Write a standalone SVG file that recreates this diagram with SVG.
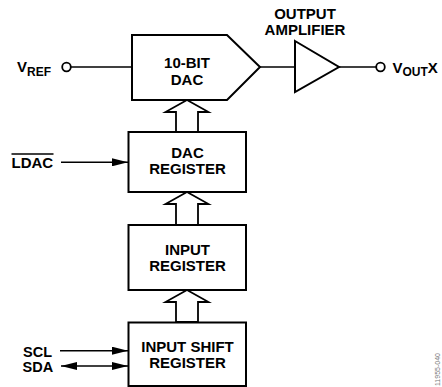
<svg xmlns="http://www.w3.org/2000/svg" width="442" height="387" viewBox="0 0 442 387">
<style>
text{font-family:"Liberation Sans",Arial,sans-serif;font-weight:bold;font-size:15px;fill:#000}
.c{text-anchor:middle}
.box{fill:#fff;stroke:#000;stroke-width:2}
.w{fill:none;stroke:#000;stroke-width:1.6}
.bus{fill:#fff;stroke:#000;stroke-width:1.8;stroke-linejoin:miter}
.pin{fill:#fff;stroke:#000;stroke-width:1.8}
.sub{font-size:12px}
.sm{font-size:14.5px}
.id{font-weight:normal;font-size:7px;fill:#777}
</style>
<defs>
<marker id="ah" markerUnits="userSpaceOnUse" markerWidth="16" markerHeight="8" refX="16" refY="4" orient="auto-start-reverse">
<path d="M0,0 L16,4 L0,8 Z" fill="#000"/>
</marker>
</defs>
<g id="connectors">
<line class="w" x1="71" y1="67" x2="132" y2="67"/>
<line class="w" x1="260" y1="67" x2="295" y2="67"/>
<line class="w" x1="339" y1="67" x2="376" y2="67"/>
<line class="w" x1="61" y1="162.3" x2="128" y2="162.3" marker-end="url(#ah)"/>
<line class="w" x1="60" y1="350.7" x2="128" y2="350.7" marker-end="url(#ah)"/>
<line class="w" x1="61" y1="366" x2="128" y2="366" marker-start="url(#ah)" marker-end="url(#ah)"/>
<path class="bus" d="M187,100 L208.5,112 L198,112 L198,132 L176,132 L176,112 L165.5,112 Z"/>
<path class="bus" d="M187,192 L208.5,204 L198,204 L198,225 L176,225 L176,204 L165.5,204 Z"/>
<path class="bus" d="M187,290 L208.5,302 L198,302 L198,322 L176,322 L176,302 L165.5,302 Z"/>
</g>
<g id="vref">
<circle class="pin" cx="66.5" cy="67" r="4.3"/>
<text x="17" y="72">V<tspan class="sub" dy="3.5">REF</tspan></text>
</g>
<g id="dac">
<path class="box" d="M132,35 L227,35 L260,67 L227,100 L132,100 Z"/>
<text class="c" x="187" y="68">10-BIT</text>
<text class="c" x="187" y="84.5">DAC</text>
</g>
<g id="amp">
<path class="box" d="M295,41 L339,67 L295,92 Z"/>
<text class="c" x="305" y="19">OUTPUT</text>
<text class="c" x="305" y="34.5">AMPLIFIER</text>
</g>
<g id="vout">
<circle class="pin" cx="380.5" cy="67" r="4.3"/>
<text x="392.5" y="72.7">V<tspan class="sub" dy="3">OUT</tspan><tspan dy="-3">X</tspan></text>
</g>
<g id="ldac">
<text x="11.5" y="168.3">LDAC</text>
<line x1="11.5" y1="154" x2="53.5" y2="154" stroke="#000" stroke-width="1.3"/>
</g>
<g id="dac-register">
<rect class="box" x="128.5" y="132" width="117.5" height="60"/>
<text class="c" x="187.5" y="157.5">DAC</text>
<text class="c" x="187.5" y="174">REGISTER</text>
</g>
<g id="input-register">
<rect class="box" x="128.5" y="225" width="117.5" height="65"/>
<text class="c" x="187.5" y="255">INPUT</text>
<text class="c" x="187.5" y="270.7">REGISTER</text>
</g>
<g id="input-shift-register">
<rect class="box" x="128.5" y="322.5" width="117.5" height="63.5"/>
<text class="c" x="187.5" y="352.3">INPUT SHIFT</text>
<text class="c" x="187.5" y="368.3">REGISTER</text>
</g>
<g id="scl"><text class="sm" x="23" y="356.8">SCL</text></g>
<g id="sda"><text class="sm" x="22.5" y="372.3">SDA</text></g>
<text class="id" transform="translate(440,386) rotate(-90)">11955-040</text>
</svg>
